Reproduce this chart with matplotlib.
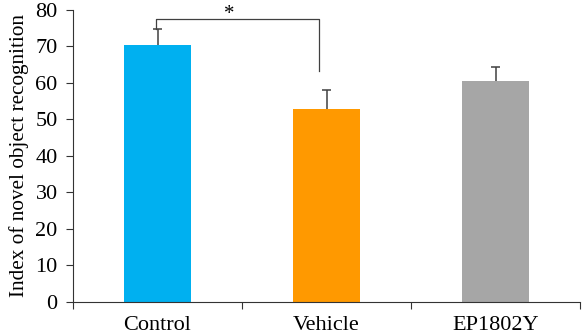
import numpy as np
import matplotlib
matplotlib.use("Agg")
import matplotlib.pyplot as plt

plt.rcParams["font.family"] = ["Liberation Serif", "DejaVu Serif"]

# Data
groups = ["Control", "Vehicle", "EP1802Y"]
means = [70.2, 52.9, 60.5]
errors = [4.4, 5.1, 3.9]
bar_colors = ["#00B0F0", "#FF9900", "#A6A6A6"]
y_ticks = [0, 10, 20, 30, 40, 50, 60, 70, 80]

fig = plt.figure(figsize=(5.85, 3.35), dpi=100)
ax = fig.add_axes([0.1248, 0.0994, 0.8667, 0.8716])

x = np.arange(len(groups))
tops = np.array(means) + np.array(errors)
ax.bar(x, means, width=0.4, color=bar_colors, zorder=2)
# upper error bars only
ax.vlines(x, means, tops, color="#404040", lw=1.1, zorder=3)
ax.hlines(tops, x - 0.027, x + 0.027, color="#404040", lw=1.1, zorder=3)

# significance bracket between Control and Vehicle
bracket_y = 77.5
ax.plot([x[0] - 0.01, x[0] - 0.01, x[1] - 0.045, x[1] - 0.045],
        [tops[0], bracket_y, bracket_y, 63.2],
        color="#404040", lw=0.9, clip_on=False, zorder=3)
ax.text(0.425, 77.4, "*", ha="center", va="baseline", fontsize=15,
        clip_on=False)

ax.set_xlim(-0.5, 2.5)
ax.set_ylim(0, 80)
ax.set_yticks(y_ticks)
ax.set_xticks([-0.5, 0.5, 1.5, 2.5])
ax.set_xticklabels([])
ax.set_xticks(x, minor=True)
ax.set_xticklabels(groups, minor=True, fontsize=16)
ax.tick_params(axis="x", which="minor", length=0, pad=10)
ax.tick_params(axis="x", which="major", length=5, width=0.8, color="#333333")
ax.tick_params(axis="y", length=5, width=0.8, color="#333333", labelsize=16, pad=6)

for side in ["top", "right"]:
    ax.spines[side].set_visible(False)
for side in ["left", "bottom"]:
    ax.spines[side].set_color("#333333")
    ax.spines[side].set_linewidth(0.8)

ax.set_ylabel("Index of novel object recognition", fontsize=15.3, labelpad=5)

fig.savefig("out.png", dpi=100)
